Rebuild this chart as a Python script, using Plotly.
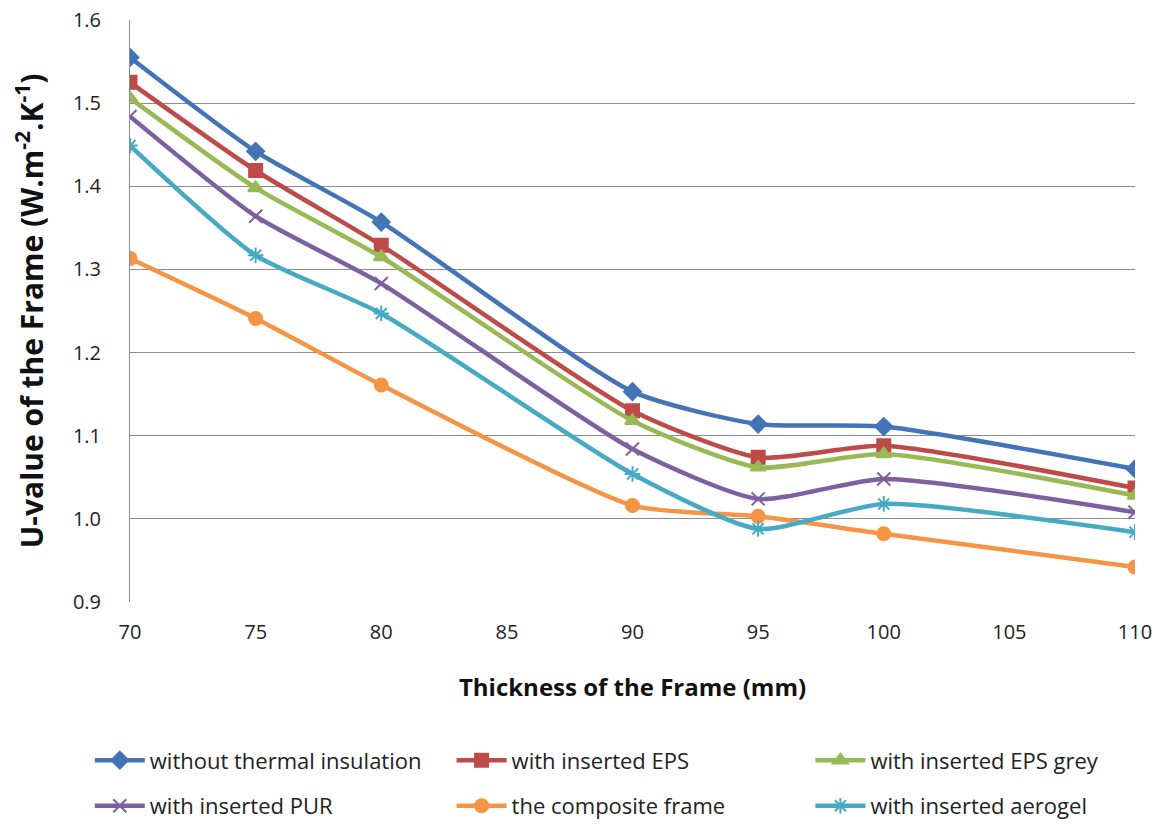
import plotly.graph_objects as go

thickness = [70, 75, 80, 90, 95, 100, 110]

without_insulation = [1.555, 1.442, 1.357, 1.153, 1.114, 1.111, 1.060]
with_eps = [1.525, 1.419, 1.329, 1.130, 1.074, 1.088, 1.037]
with_eps_grey = [1.506, 1.398, 1.315, 1.118, 1.062, 1.078, 1.028]
with_pur = [1.484, 1.364, 1.283, 1.084, 1.024, 1.048, 1.008]
composite_frame = [1.313, 1.241, 1.161, 1.016, 1.003, 0.982, 0.942]
with_aerogel = [1.449, 1.317, 1.247, 1.054, 0.988, 1.018, 0.984]

series = [
    ("without thermal insulation", without_insulation, "#4374B7", "diamond", 13, "legend"),
    ("with inserted EPS", with_eps, "#BE4B48", "square", 13, "legend2"),
    ("with inserted EPS grey", with_eps_grey, "#98B954", "triangle-up", 13, "legend3"),
    ("with inserted PUR", with_pur, "#7D60A0", "x-thin-open", 13, "legend"),
    ("the composite frame", composite_frame, "#F59443", "circle", 13, "legend2"),
    ("with inserted aerogel", with_aerogel, "#46AAC5", "asterisk-open", 13, "legend3"),
]

fig = go.Figure()
for i, (name, vals, color, sym, size, lg) in enumerate(series):
    fig.add_trace(go.Scatter(
        x=thickness, y=vals, name=name, mode="lines+markers",
        line=dict(color=color, width=4.5, shape="spline", smoothing=0.6),
        marker=dict(symbol=sym, size=size, color=color,
                    line=dict(color=color, width=2)),
        legend=lg, legendgroup=name,
    ))

font = "'Open Sans', Lato, sans-serif"
legend_common = dict(
    orientation="v", traceorder="grouped", tracegroupgap=14,
    font=dict(family=font, size=22, color="#222222"),
    itemwidth=50, bgcolor="rgba(0,0,0,0)", yanchor="top", xanchor="left",
    yref="container", y=0.106,
)

fig.update_layout(
    width=1158, height=827,
    margin=dict(l=130, r=23, t=20, b=225),
    paper_bgcolor="white", plot_bgcolor="white",
    font=dict(family=font, size=20, color="#222222"),
    showlegend=True,
    legend=dict(x=-0.04, **legend_common),
    legend2=dict(x=0.32, **legend_common),
    legend3=dict(x=0.677, **legend_common),
    xaxis=dict(
        range=[70, 110], tickmode="linear", tick0=70, dtick=5,
        showgrid=False, zeroline=False, showline=False,
        ticks="", ticklabelstandoff=16, automargin=False,
        tickfont=dict(size=20, color="#222222"),
        title=dict(text="<b>Thickness of the Frame (mm)</b>",
                   font=dict(size=24, color="#111111"), standoff=35),
    ),
    yaxis=dict(
        range=[0.9, 1.6], tickmode="linear", tick0=0.9, dtick=0.1,
        tickformat=".1f", showgrid=True, gridcolor="#8c8c8c", gridwidth=1,
        zeroline=False, showline=True, linecolor="#8c8c8c", linewidth=1,
        ticks="", ticklabelstandoff=24, automargin=False,
        tickfont=dict(size=20, color="#222222"),
        title=dict(text="<b>U-value of the Frame (W.m<sup>-2</sup>.K<sup>-1</sup>)</b>",
                   font=dict(size=30, color="#111111"), standoff=20),
    ),
)

fig.write_html(
    "out.html",
    config={"displayModeBar": False},
    post_script="document.body.style.margin='0';document.body.style.overflow='hidden';",
)
